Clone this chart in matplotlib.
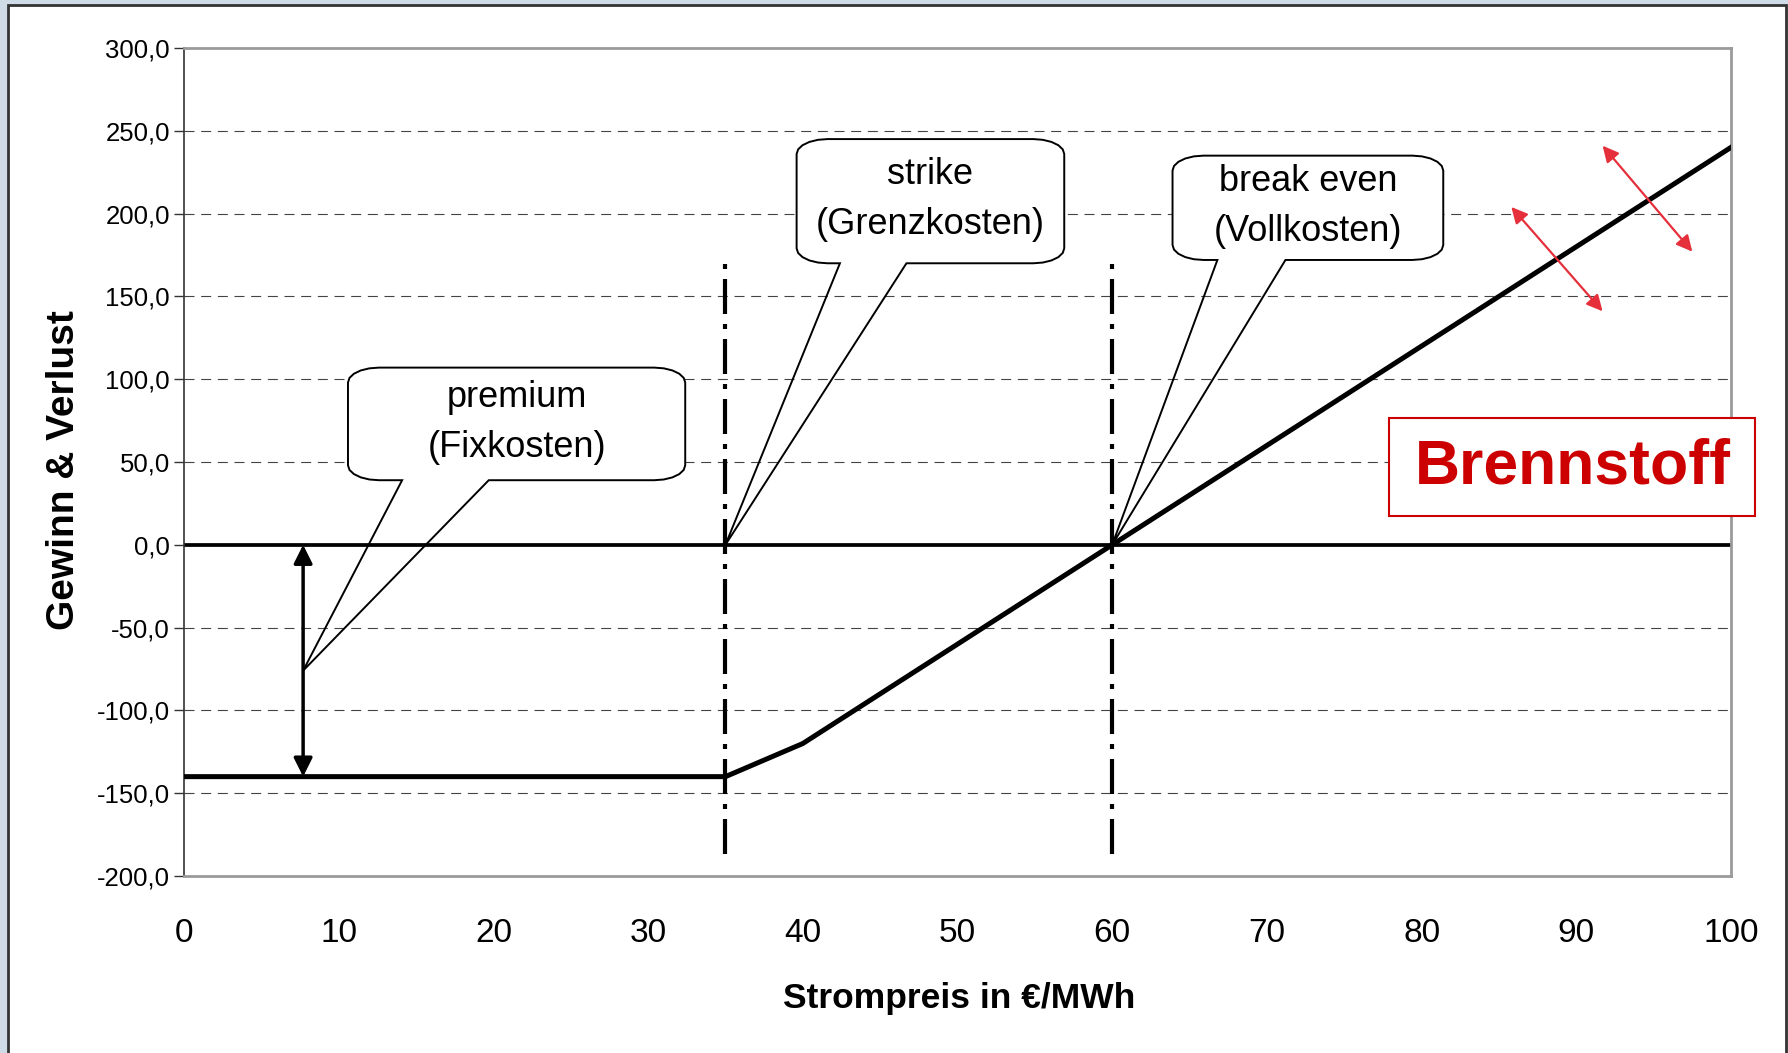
import numpy as np
import matplotlib
matplotlib.use("Agg")
import matplotlib.pyplot as plt
from matplotlib.patches import Polygon, Rectangle

plt.rcParams['font.family'] = ['Liberation Sans', 'DejaVu Sans']

# payoff curve (Strompreis -> Gewinn & Verlust)
preis = [0, 35, 40, 60, 100]
gewinn = [-140, -140, -120, 0, 240]

strike = 35
break_even = 60
premium = -140

y_ticks = [-200, -150, -100, -50, 0, 50, 100, 150, 200, 250, 300]
y_labels = [f"{v:.1f}".replace('.', ',') for v in y_ticks]
x_ticks = [0, 10, 20, 30, 40, 50, 60, 70, 80, 90, 100]

# callouts: text, box (x0, x1, y0, y1), tail base (xa, xb), tip
callouts = [
    ("premium\n(Fixkosten)", (10.6, 32.4, 39, 107), (14.1, 19.7), (7.7, -76)),
    ("strike\n(Grenzkosten)", (39.6, 56.9, 170, 245), (42.4, 46.7), (35, 0)),
    ("break even\n(Vollkosten)", (63.9, 81.4, 172, 235), (66.8, 71.2), (60, 0)),
]

# red double arrows across the curve
red_arrows = [((85.8, 204), (91.7, 141)), ((91.7, 241), (97.5, 177))]


def corner(cx, cy, rx, ry, a0, a1, n=6):
    t = np.linspace(np.radians(a0), np.radians(a1), n)
    return list(zip(cx + rx * np.cos(t), cy + ry * np.sin(t)))


def bubble(box, base, tip, rx=2.0, ry=9.0):
    x0, x1, y0, y1 = box
    pts = []
    pts += corner(x0 + rx, y1 - ry, rx, ry, 180, 90)
    pts += corner(x1 - rx, y1 - ry, rx, ry, 90, 0)
    pts += corner(x1 - rx, y0 + ry, rx, ry, 0, -90)
    tail = [(base[1], y0), tip, (base[0], y0)]
    rounded = pts + corner(x0 + rx, y0 + ry, rx, ry, -90, -180)
    full = pts + tail + corner(x0 + rx, y0 + ry, rx, ry, -90, -180)
    return rounded, full


fig = plt.figure(figsize=(17.88, 10.53), dpi=100)
fig.patch.set_facecolor('#cfdce7')
fig.add_artist(Rectangle((8 / 1788, -0.05), 1778 / 1788, 1 - 5 / 1053 + 0.05,
                         transform=fig.transFigure, facecolor='white',
                         edgecolor='#333333', lw=2, zorder=-10))

ax = fig.add_axes([184 / 1788, 1 - 876 / 1053, 1547 / 1788, 828 / 1053])
ax.set_xlim(0, 100)
ax.set_ylim(-200, 300)

for v in y_ticks:
    if v not in (0, -200, 300):
        ax.axhline(v, color='#444444', lw=0.8, ls=(0, (9, 6)), zorder=1)

ax.axhline(0, color='black', lw=2.7, zorder=2)
ax.plot(preis, gewinn, color='black', lw=3.6, solid_joinstyle='miter', zorder=3)

for xv in (strike, break_even):
    ax.vlines(xv, -187, 172, color='black', lw=3, ls=(0, (8.4, 2.4, 1.2, 2.4)), zorder=3)

ax.annotate('', xy=(7.7, 0), xytext=(7.7, premium),
            arrowprops=dict(arrowstyle='<|-|>', color='black', lw=2.5,
                            mutation_scale=28, shrinkA=0, shrinkB=0), zorder=4)

for label, box, base, tip in callouts:
    rounded, full = bubble(box, base, tip)
    ax.add_patch(Polygon(rounded, closed=True, facecolor='white', edgecolor='none', zorder=5))
    ax.add_patch(Polygon(full, closed=True, fill=False, edgecolor='black', lw=1.4,
                         joinstyle='miter', zorder=6))
    ax.text((box[0] + box[1]) / 2, (box[2] + box[3]) / 2 + 1, label, ha='center', va='center',
            fontsize=26, linespacing=1.55, zorder=7)

for start, end in red_arrows:
    ax.annotate('', xy=end, xytext=start,
                arrowprops=dict(arrowstyle='<|-|>', color='#e5303c', lw=1.6,
                                mutation_scale=24, shrinkA=0, shrinkB=0), zorder=6)

ax.set_yticks(y_ticks)
ax.set_yticklabels(y_labels)
ax.set_xticks(x_ticks)
ax.set_xticklabels([str(v) for v in x_ticks])
ax.tick_params(axis='y', labelsize=18.5, length=7, width=1, color='#333333', pad=3)
ax.tick_params(axis='x', labelsize=24, length=0, pad=30)

ax.spines['left'].set_color('#333333')
ax.spines['left'].set_linewidth(1.2)
for s in ('top', 'right', 'bottom'):
    ax.spines[s].set_color('#9a9a9a')
    ax.spines[s].set_linewidth(2)

ax.set_xlabel('Strompreis in €/MWh', fontsize=25.5, fontweight='bold')
ax.xaxis.set_label_coords(0.501, -0.128)
ax.set_ylabel('Gewinn & Verlust', fontsize=28, fontweight='bold')
ax.yaxis.set_label_coords(-0.066, 0.49)

# Brennstoff box, sticks out past the right spine
fig.add_artist(Rectangle((1389 / 1788, 1 - 516 / 1053), 366 / 1788, 98 / 1053,
                         transform=fig.transFigure, facecolor='white',
                         edgecolor='#cc0000', lw=1.5, zorder=5))
fig.text(1573 / 1788, 1 - 467 / 1053, 'Brennstoff', color='#cc0000', fontsize=45,
         fontweight='bold', ha='center', va='center', zorder=6)

fig.savefig('out.png', dpi=100)
